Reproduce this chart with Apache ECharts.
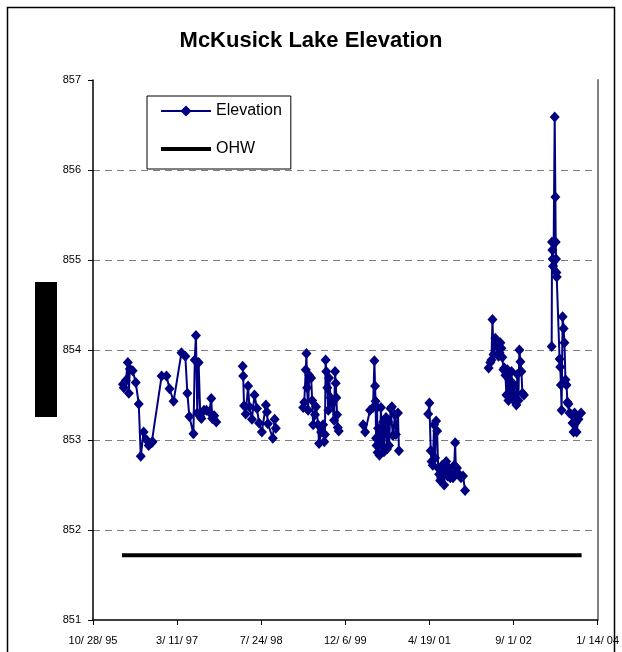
<!DOCTYPE html>
<html>
<head>
<meta charset="utf-8">
<script src="https://cdn.jsdelivr.net/npm/echarts@6/dist/echarts.min.js"></script>
<style>
html,body{margin:0;padding:0;background:#fff;}
#chart{width:622px;height:652px;}
</style>
</head>
<body>
<div id="chart"></div>
<script>
// Dates are Excel serial day numbers (35000 = 10/28/95); null marks a gap in the record.
var dates = [
  35178,35183,35195,35207,35213,35219,35236,35254,35272,35284,35301,35319,35331,35349,35354,
  35408,35437,35455,35479,35526,35549,35561,35573,35597,35605,35612,35620,35628,35638,35644,
  35660,35674,35691,35703,35709,35721,35733,
  null,
  35890,35893,35898,35908,35922,35930,35945,35960,35975,35987,36004,36028,36034,36040,36069,36080,36087,
  null,
  36250,36256,36265,36269,36273,36279,36285,36297,36303,36309,36320,36326,36338,36344,36356,36368,
  36375,36379,36383,36387,36393,36399,36403,36413,36423,36433,36439,36443,36447,36451,36455,36461,
  null,
  36606,36618,36647,36665,36673,36677,36680,36683,36686,36689,36692,36695,36703,36712,36718,36725,
  36730,36736,36742,36748,36754,36760,36769,36777,36783,36795,36801,36813,36819,
  null,
  36993,37000,37008,37013,37020,37028,37034,37040,37046,37052,37058,37064,37070,37076,37082,37088,
  37094,37100,37108,37116,37124,37132,37140,37148,37153,37158,37164,37176,37188,37200,37212,
  null,
  37352,37362,37369,37375,37381,37392,37405,37411,37417,37422,37428,37434,37440,37446,37452,37458,
  37464,37470,37476,37482,37488,37493,37499,37505,37512,37517,37523,37529,37535,37541,37547,37553,37562,
  null,
  37727,37729,37731,37733,37735,37739,37745,37749,37751,37753,37755,37757,37774,37778,37782,37786,
  37792,37798,37803,37809,37815,37821,37827,37833,37845,37851,37857,37863,37869,37875,37886,37902
];
var elevations = [
  853.62,853.58,853.66,853.86,853.52,853.79,853.77,853.64,853.40,852.82,853.09,853.00,852.94,852.97,852.98,
  853.71,853.71,853.57,853.43,853.97,853.93,853.52,853.26,853.07,853.89,854.16,853.30,853.86,853.26,853.24,
  853.33,853.33,853.31,853.46,853.24,853.27,853.20,
  null,
  853.82,853.71,853.38,853.29,853.60,853.37,853.23,853.50,853.35,853.19,853.09,853.39,853.31,853.18,853.02,853.23,853.13,
  null,
  853.36,853.42,853.78,853.96,853.58,853.33,853.72,853.69,853.44,853.17,853.28,853.37,853.17,852.96,853.09,853.17,
  852.98,853.06,853.89,853.76,853.58,853.33,853.69,853.47,853.40,853.22,853.76,853.63,853.47,853.28,853.14,853.10,
  null,
  853.17,853.09,853.33,853.36,853.88,853.60,853.43,853.02,852.94,853.36,852.86,853.13,852.83,853.36,852.94,853.20,
  852.87,853.13,853.25,852.90,853.20,852.94,853.35,853.37,853.05,853.28,853.06,853.30,852.88,
  null,
  853.29,853.41,852.88,852.76,852.72,853.17,852.80,853.21,853.10,852.69,852.62,852.55,852.58,852.72,852.65,852.50,
  852.68,852.76,852.60,852.69,852.58,852.62,852.58,852.72,852.97,852.65,852.69,852.62,852.58,852.60,852.44,
  null,
  853.80,853.86,853.89,854.34,853.95,854.13,854.03,853.93,853.97,854.08,854.02,853.92,853.78,853.80,853.72,853.50,
  853.78,853.44,853.67,853.47,853.76,853.52,853.45,853.61,853.42,853.39,853.73,853.44,854.00,853.87,853.76,853.52,853.50,
  null,
  854.04,855.20,855.11,855.01,854.93,855.20,856.59,855.70,855.20,855.01,854.86,854.81,853.90,853.81,853.61,853.33,
  854.37,854.24,854.08,853.67,853.61,853.42,853.40,853.30,853.28,853.19,853.09,853.30,853.19,853.09,853.23,853.30,853.50
];
var ohwDates = [35172, 37905];
var ohwLevel = [851.72, 851.72];
var xTicks = { min: 35000, max: 38000, step: 500 };
var yTicks = { min: 851, max: 857, step: 1 };
var titleText = 'McKusick Lake Elevation';

function serialToLabel(s) {
  var d = new Date(Date.UTC(1899, 11, 30) + s * 86400000);
  var yy = String(d.getUTCFullYear() % 100);
  if (yy.length < 2) yy = '0' + yy;
  return (d.getUTCMonth() + 1) + '/ ' + d.getUTCDate() + '/ ' + yy;
}

var elevData = dates.map(function (d, i) {
  return (d === null || elevations[i] === null) ? ['-', '-'] : [d, elevations[i]];
});
var ohwData = ohwDates.map(function (d, i) { return [d, ohwLevel[i]]; });

var FONT = '"Liberation Sans", Arial, sans-serif';
var chart = echarts.init(document.getElementById('chart'), null, { renderer: 'canvas' });
chart.setOption({
  animation: false,
  backgroundColor: '#ffffff',
  title: {
    text: titleText, left: 'center', top: 25,
    textStyle: { fontFamily: FONT, fontSize: 22, fontWeight: 'bold', color: '#000' }
  },
  legend: {
    orient: 'vertical', left: 147, top: 96,
    backgroundColor: '#fff', borderColor: '#000', borderWidth: 1,
    padding: [7, 9, 12, 13], itemWidth: 50, itemHeight: 14, itemGap: 22,
    textStyle: { fontFamily: FONT, fontSize: 16, color: '#000' },
    data: [
      { name: 'Elevation' },
      { name: 'OHW', icon: 'path://M0,0L50,0L50,4L0,4Z' }
    ]
  },
  grid: { left: 93, right: 21, top: 80, bottom: 32, containLabel: false },
  xAxis: {
    type: 'value', min: xTicks.min, max: xTicks.max, interval: xTicks.step,
    axisLine: { lineStyle: { color: '#000', width: 1.5 } },
    axisTick: { show: true, length: 5, lineStyle: { color: '#000' } },
    axisLabel: { formatter: serialToLabel, margin: 15, fontFamily: FONT, fontSize: 11, color: '#000' },
    splitLine: { show: false }
  },
  yAxis: [{
    type: 'value', min: yTicks.min, max: yTicks.max, interval: yTicks.step,
    axisLine: { show: true, lineStyle: { color: '#000', width: 1.5 } },
    axisTick: { show: true, length: 5, lineStyle: { color: '#000' } },
    axisLabel: { margin: 12, fontFamily: FONT, fontSize: 11, color: '#000' },
    splitLine: { show: true, showMinLine: false, showMaxLine: false,
      lineStyle: { color: '#808080', type: [7, 5], width: 1 } }
  }, {
    type: 'value', position: 'right', min: yTicks.min, max: yTicks.max, interval: yTicks.step,
    axisLine: { show: true, lineStyle: { color: '#808080', width: 2 } },
    axisTick: { show: false }, axisLabel: { show: false }, splitLine: { show: false }
  }],
  series: [{
    name: 'Elevation', type: 'line', data: elevData, connectNulls: false,
    symbol: 'diamond', symbolSize: [10, 11], showAllSymbol: true,
    lineStyle: { color: '#000080', width: 2 },
    itemStyle: { color: '#000080' }
  }, {
    name: 'OHW', type: 'line', data: ohwData, symbol: 'none',
    lineStyle: { color: '#000', width: 4 },
    itemStyle: { color: '#000' }
  }],
  graphic: [{
    type: 'rect', shape: { x: 7.5, y: 7.5, width: 607, height: 700 },
    style: { fill: 'none', stroke: '#000', lineWidth: 1.5 }, silent: true
  }, {
    type: 'rect', shape: { x: 35, y: 282, width: 22, height: 135 },
    style: { fill: '#000' }, silent: true
  }]
});
</script>
</body>
</html>
